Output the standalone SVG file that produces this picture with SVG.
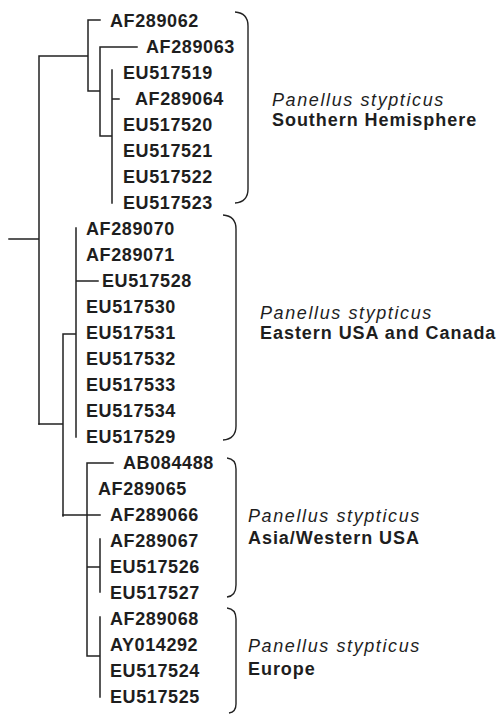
<svg xmlns="http://www.w3.org/2000/svg" width="497" height="714" viewBox="0 0 497 714">
<style>
.t{font-family:"Liberation Sans",Arial,Helvetica,sans-serif;font-size:18px;font-weight:bold;fill:#1e1e1e;letter-spacing:0.6px}
.sp{font-family:"Liberation Sans",Arial,Helvetica,sans-serif;font-size:18px;font-style:italic;fill:#1e1e1e;letter-spacing:1.6px}
.rg{font-family:"Liberation Sans",Arial,Helvetica,sans-serif;font-size:18px;font-weight:bold;fill:#1e1e1e;letter-spacing:0.95px}
.ln{fill:none;stroke:#222;stroke-width:1.5;stroke-linecap:square}
.br{fill:none;stroke:#222;stroke-width:1.4}
</style>
<rect width="497" height="714" fill="#fff"/>
<g id="connectors">
<path class="ln" d="M9,239H39 M39,56V424 M39,56H88 M88,20V91 M88,20H100 M88,91H100 M100,47V136 M100,47H137 M100,136H112 M112,70V203 M112,99H119"/>
<path class="ln" d="M39,424H63 M63,334V516 M63,334H76 M76,228V437 M76,281H98"/>
<path class="ln" d="M63,515H100 M87,463V656 M87,463H113 M87,567H100 M100,539V592 M87,656H100 M100,617V697"/>
</g>
<g id="brackets">
<path class="br" d="M235,12Q248,13 248,26V189Q248,202 235,203"/>
<path class="br" d="M223,215Q236,216 236,229V426Q236,439 223,440"/>
<path class="br" d="M227,458Q236,459 236,469V585Q236,596 227,597"/>
<path class="br" d="M227,608Q236,609 236,619V704Q236,712 229,713"/>
</g>
<g id="leaf-AF289062"><text class="t" x="110" y="27">AF289062</text></g>
<g id="leaf-AF289063"><text class="t" x="146" y="53">AF289063</text></g>
<g id="leaf-EU517519"><text class="t" x="123" y="79">EU517519</text></g>
<g id="leaf-AF289064"><text class="t" x="135" y="105">AF289064</text></g>
<g id="leaf-EU517520"><text class="t" x="123" y="131">EU517520</text></g>
<g id="leaf-EU517521"><text class="t" x="123" y="157">EU517521</text></g>
<g id="leaf-EU517522"><text class="t" x="123" y="183">EU517522</text></g>
<g id="leaf-EU517523"><text class="t" x="123" y="209">EU517523</text></g>
<g id="leaf-AF289070"><text class="t" x="86" y="235">AF289070</text></g>
<g id="leaf-AF289071"><text class="t" x="86" y="261">AF289071</text></g>
<g id="leaf-EU517528"><text class="t" x="102" y="287">EU517528</text></g>
<g id="leaf-EU517530"><text class="t" x="86" y="313">EU517530</text></g>
<g id="leaf-EU517531"><text class="t" x="86" y="339">EU517531</text></g>
<g id="leaf-EU517532"><text class="t" x="86" y="365">EU517532</text></g>
<g id="leaf-EU517533"><text class="t" x="86" y="391">EU517533</text></g>
<g id="leaf-EU517534"><text class="t" x="86" y="417">EU517534</text></g>
<g id="leaf-EU517529"><text class="t" x="86" y="443">EU517529</text></g>
<g id="leaf-AB084488"><text class="t" x="123" y="469">AB084488</text></g>
<g id="leaf-AF289065"><text class="t" x="98" y="495">AF289065</text></g>
<g id="leaf-AF289066"><text class="t" x="110" y="521">AF289066</text></g>
<g id="leaf-AF289067"><text class="t" x="110" y="547">AF289067</text></g>
<g id="leaf-EU517526"><text class="t" x="110" y="573">EU517526</text></g>
<g id="leaf-EU517527"><text class="t" x="110" y="599">EU517527</text></g>
<g id="leaf-AF289068"><text class="t" x="110" y="625">AF289068</text></g>
<g id="leaf-AY014292"><text class="t" x="110" y="651">AY014292</text></g>
<g id="leaf-EU517524"><text class="t" x="110" y="677">EU517524</text></g>
<g id="leaf-EU517525"><text class="t" x="110" y="703">EU517525</text></g>
<g id="clade-southern"><text class="sp" x="272" y="106">Panellus stypticus</text><text class="rg" x="272" y="126">Southern Hemisphere</text></g>
<g id="clade-eastern"><text class="sp" x="260" y="319">Panellus stypticus</text><text class="rg" x="260" y="339">Eastern USA and Canada</text></g>
<g id="clade-asia"><text class="sp" x="248" y="522">Panellus stypticus</text><text class="rg" x="248" y="544">Asia/Western USA</text></g>
<g id="clade-europe"><text class="sp" x="248" y="652">Panellus stypticus</text><text class="rg" x="248" y="675">Europe</text></g>
</svg>
